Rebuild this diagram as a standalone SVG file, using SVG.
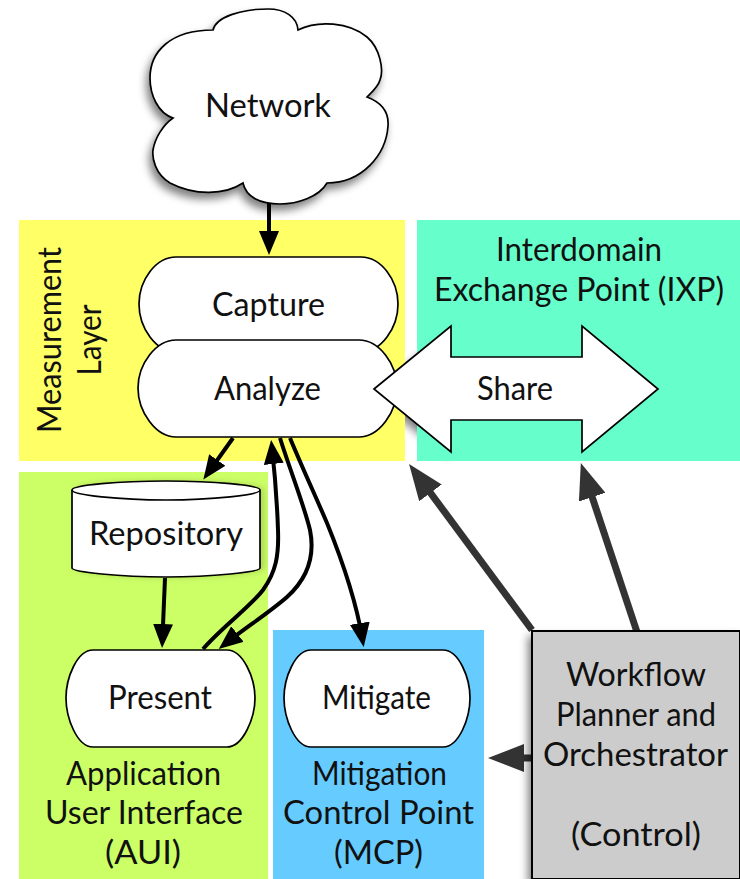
<svg xmlns="http://www.w3.org/2000/svg" width="740" height="879" viewBox="0 0 740 879">
<style>
text{font-family:"Lato","Noto Sans",sans-serif;font-size:32.5px;fill:#111;text-anchor:middle}
.s{fill:#fff;stroke:#000;stroke-width:1.7}
.n{fill:none;stroke:#000;stroke-width:1.7}
.c{fill:none;stroke:#000;stroke-width:4}
.g{fill:none;stroke:#333;stroke-width:7}
</style>
<defs>
<filter id="sh" x="-20%" y="-20%" width="140%" height="140%"><feGaussianBlur in="SourceAlpha" stdDeviation="4.5"/><feOffset dx="-3" dy="6"/><feComponentTransfer><feFuncA type="linear" slope="0.5"/></feComponentTransfer><feMerge><feMergeNode/><feMergeNode in="SourceGraphic"/></feMerge></filter>
<filter id="so" x="-20%" y="-20%" width="140%" height="140%"><feGaussianBlur in="SourceAlpha" stdDeviation="4.5"/><feOffset dx="-3" dy="6"/><feComponentTransfer><feFuncA type="linear" slope="0.5"/></feComponentTransfer></filter>
<filter id="sl" x="-20%" y="-20%" width="140%" height="140%"><feGaussianBlur in="SourceAlpha" stdDeviation="3"/><feOffset dx="4" dy="0"/><feComponentTransfer><feFuncA type="linear" slope="0.15"/></feComponentTransfer><feMerge><feMergeNode/><feMergeNode in="SourceGraphic"/></feMerge></filter>
<marker id="a" markerUnits="userSpaceOnUse" markerWidth="24" markerHeight="20" refX="16" refY="10" viewBox="0 0 24 20" orient="auto"><path d="M0 0L24 10L0 20Z" fill="#000"/></marker>
<marker id="b" markerUnits="userSpaceOnUse" markerWidth="36" markerHeight="28" refX="26" refY="14" viewBox="0 0 36 28" orient="auto"><path d="M0 0L36 14L0 28Z" fill="#333"/></marker>
</defs>
<path filter="url(#so)" d="M374 389L451 326V357H582V326L658 389L582 452V420H451V452Z"/>
<rect x="19" y="220" width="386" height="241" fill="#ffff66"/>
<rect x="417" y="220" width="323" height="241" fill="#66ffcc"/>
<rect x="19" y="472" width="249" height="407" fill="#ccff66"/>
<rect x="273" y="630" width="211" height="249" fill="#66ccff"/>
<g id="network"><path class="s" filter="url(#sh)" d="M213 30C216 17 241 9 268 9C285 9 297 17 298 30C318 20 349 22 367 37C380 48 384 70 380 80C378 87 372 92 367 97C383 103 389 113 388 126C386 155 362 183 327 183C319 197 297 204 280 204C260 204 246 197 243 183C225 195 195 196 170 183C155 174 152 158 153 150C155 138 163 125 173 118C158 113 150 95 150 78C150 52 170 30 213 30Z"/><text x="268" y="117" textLength="126" lengthAdjust="spacingAndGlyphs">Network</text></g>
<g id="connectors">
<path class="c" d="M269 203V247" marker-end="url(#a)"/>
<path class="c" d="M233 438L208 473" marker-end="url(#a)"/>
<path class="c" d="M165 578L162.4 640" marker-end="url(#a)"/>
<path class="c" d="M203 649C222 627 250 607 263 590C276 572 279 555 278 530C277 500 275 475 272 448" marker-end="url(#a)"/>
<path class="c" d="M280 438C290 470 304 505 310 530C315 555 308 578 287 597C270 612 245 628 225 644" marker-end="url(#a)"/>
<path class="c" d="M290 438C302 467 315 495 327 523C340 555 356 600 362.4 639" marker-end="url(#a)"/>
<path class="g" d="M532 630L415 472" marker-end="url(#b)"/>
<path class="g" d="M637 632L584 472.5" marker-end="url(#b)"/>
<path class="g" d="M532 758H498" marker-end="url(#b)"/>
</g>
<g id="capture"><path class="s" d="M176 257H361C381 257 398 280 398 304C398 328 381 352 361 352H176C156 352 139 328 139 304C139 280 156 257 176 257Z"/><text x="268.5" y="316" textLength="113" lengthAdjust="spacingAndGlyphs">Capture</text></g>
<g id="analyze"><path class="s" d="M176 340H359C379 340 397 364 397 388C397 412 379 437 359 437H176C156 437 138 412 138 388C138 364 156 340 176 340Z"/><text x="267.5" y="400" textLength="107" lengthAdjust="spacingAndGlyphs">Analyze</text></g>
<g id="share"><path class="s" d="M374 389L451 326V357H582V326L658 389L582 452V420H451V452Z"/><text x="515" y="400" textLength="76" lengthAdjust="spacingAndGlyphs">Share</text></g>
<g id="repository"><path class="s" filter="url(#sl)" d="M72 490C72 485 120 481 166 481C212 481 260 485 260 490V568C260 572 212 577 166 577C120 577 72 572 72 568Z"/><path class="n" d="M72 490C72 495 120 500 166 500C212 500 260 495 260 490"/><text x="166" y="545" textLength="154" lengthAdjust="spacingAndGlyphs">Repository</text></g>
<g id="present"><path class="s" d="M93 650H227C243 650 255 678 255 698C255 718 243 747 227 747H93C77 747 66 718 66 698C66 678 77 650 93 650Z"/><text x="160" y="709" textLength="104" lengthAdjust="spacingAndGlyphs">Present</text></g>
<g id="mitigate"><path class="s" d="M311 650H443C459 650 470 678 470 698C470 718 459 747 443 747H311C295 747 284 718 284 698C284 678 295 650 311 650Z"/><text x="376.5" y="709" textLength="109" lengthAdjust="spacingAndGlyphs">Mitigate</text></g>
<g id="workflow"><rect x="532" y="631" width="208" height="248" fill="#ccc" stroke="#000" stroke-width="2" filter="url(#sh)"/>
<text x="636" y="686" textLength="140" lengthAdjust="spacingAndGlyphs">Workflow</text><text x="636" y="726" textLength="160" lengthAdjust="spacingAndGlyphs">Planner and</text><text x="635.5" y="766" textLength="185" lengthAdjust="spacingAndGlyphs">Orchestrator</text><text x="636" y="846" textLength="130" lengthAdjust="spacingAndGlyphs">(Control)</text></g>
<g id="labels">
<text transform="translate(61 340) rotate(-90)" textLength="186" lengthAdjust="spacingAndGlyphs">Measurement</text><text transform="translate(101 340) rotate(-90)" textLength="71" lengthAdjust="spacingAndGlyphs">Layer</text>
<text x="579" y="261" textLength="166" lengthAdjust="spacingAndGlyphs">Interdomain</text><text x="579" y="301" textLength="290" lengthAdjust="spacingAndGlyphs">Exchange Point (IXP)</text>
<text x="143.5" y="785" textLength="155" lengthAdjust="spacingAndGlyphs">Application</text><text x="144" y="824" textLength="198" lengthAdjust="spacingAndGlyphs">User Interface</text><text x="143" y="864" textLength="76" lengthAdjust="spacingAndGlyphs">(AUI)</text>
<text x="379.5" y="785" textLength="135" lengthAdjust="spacingAndGlyphs">Mitigation</text><text x="378.5" y="824" textLength="191" lengthAdjust="spacingAndGlyphs">Control Point</text><text x="378.5" y="864" textLength="89" lengthAdjust="spacingAndGlyphs">(MCP)</text>
</g>
</svg>
